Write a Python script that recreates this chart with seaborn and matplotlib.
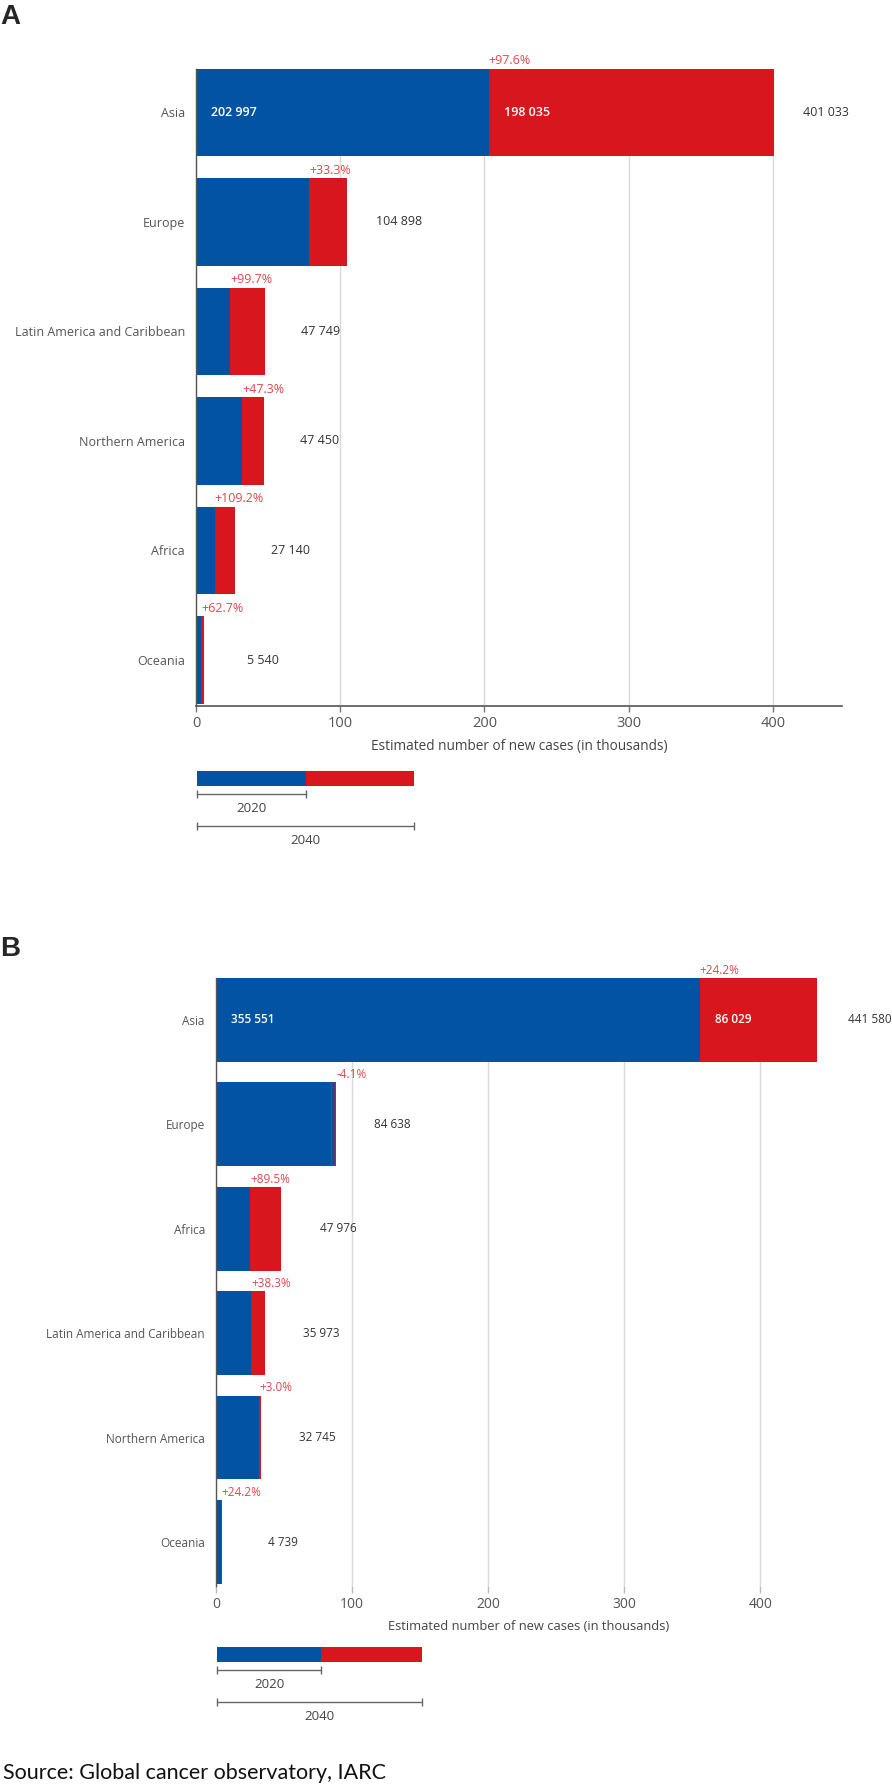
import matplotlib
matplotlib.use("Agg")
import matplotlib.pyplot as plt
import pandas as pd
import seaborn as sns

# panel A
regions_a = ["Asia", "Europe", "Latin America and Caribbean",
             "Northern America", "Africa", "Oceania"]
cases_2020_a = [202997, 78693, 23910, 32213, 12973, 3405]
cases_2040_a = [401033, 104898, 47749, 47450, 27140, 5540]
increase_a = [198035, 26205, 23839, 15237, 14167, 2135]
change_a = ["+97.6%", "+33.3%", "+99.7%", "+47.3%", "+109.2%", "+62.7%"]

# panel B
regions_b = ["Asia", "Europe", "Africa", "Latin America and Caribbean",
             "Northern America", "Oceania"]
cases_2020_b = [355551, 88256, 25317, 26011, 31791, 3816]
cases_2040_b = [441580, 84638, 47976, 35973, 32745, 4739]
increase_b = [86029, -3618, 22659, 9962, 954, 923]
change_b = ["+24.2%", "-4.1%", "+89.5%", "+38.3%", "+3.0%", "+24.2%"]

ticks = [0, 100, 200, 300, 400]
legend_years = ["2020", "2040"]

BLUE = "#0353a4"
RED = "#d7171d"
RED_TXT = "#e2474c"

sns.set_theme(style="white")
plt.rcParams["font.family"] = ["Open Sans", "DejaVu Sans"]
plt.rcParams["hatch.linewidth"] = 1.2

W, H = 892, 1784
fig = plt.figure(figsize=(W / 100, H / 100), dpi=100)


def box(left, top, right, bottom):
    return [left / W, 1 - bottom / H, (right - left) / W, (bottom - top) / H]


def fmt(v):
    return f"{v:,}".replace(",", " ")


def panel(ax, regions, v2020, v2040, inc, change, xmax, fs, tick_fs, bottom_spine):
    df = pd.DataFrame({"region": regions,
                       "k2020": [v / 1000 for v in v2020],
                       "k2040": [v / 1000 for v in v2040]})
    sns.barplot(data=df, x="k2040", y="region", color=RED, saturation=1,
                width=0.8, ax=ax, linewidth=0)
    sns.barplot(data=df, x="k2020", y="region", color=BLUE, saturation=1,
                width=0.8, ax=ax, linewidth=0)
    for i, row in df.iterrows():
        lo, hi = sorted([row.k2020, row.k2040])
        if row.k2040 < row.k2020:
            # decrease: striped part between 2040 and 2020
            ax.barh(i, hi - lo, left=lo, height=0.8, facecolor=BLUE,
                    edgecolor=RED, hatch="||||", linewidth=0)
        ax.annotate(change[i], xy=(row.k2020, i - 0.4), xytext=(0, 1),
                    textcoords="offset points", ha="left", va="bottom",
                    color=RED_TXT, fontsize=fs)
        ax.annotate(fmt(v2040[i]), xy=(hi, i), xytext=(54, 0),
                    textcoords="offset points", ha="right", va="center",
                    color="#333333", fontsize=fs, annotation_clip=False)
        if row.k2020 > 150:
            ax.annotate(fmt(v2020[i]), xy=(0, i), xytext=(11, 0),
                        textcoords="offset points", ha="left", va="center",
                        color="white", fontsize=fs, fontweight="semibold")
            ax.annotate(fmt(inc[i]), xy=(row.k2020, i),
                        xytext=(11, 0), textcoords="offset points",
                        ha="left", va="center", color="white",
                        fontsize=fs, fontweight="semibold")
    ax.set_xlim(0, xmax)
    ax.set_ylim(5.42, -0.4)
    ax.set_xticks(ticks)
    ax.set_xticklabels([str(t) for t in ticks])
    ax.set_ylabel("")
    ax.set_xlabel("Estimated number of new cases (in thousands)",
                  fontsize=fs + 0.8, color="#444444", labelpad=6)
    ax.grid(axis="x", color="#d9d9d9", linewidth=1)
    ax.set_axisbelow(True)
    ax.tick_params(axis="y", length=0, pad=8, labelsize=fs,
                   labelcolor="#555555")
    ax.tick_params(axis="x", bottom=True, length=4, width=1,
                   color="#777777", labelsize=tick_fs, labelcolor="#555555",
                   pad=3)
    for s in ["top", "right"]:
        ax.spines[s].set_visible(False)
    ax.spines["left"].set_color("#555555")
    ax.spines["left"].set_linewidth(1)
    if bottom_spine:
        ax.spines["bottom"].set_color("#555555")
        ax.spines["bottom"].set_linewidth(1.2)
    else:
        ax.spines["bottom"].set_visible(False)
        ax.tick_params(axis="x", color="#bbbbbb", length=5)


def legend(ax, split, fs):
    ax.barh(13.5, split, left=0, height=15, color=BLUE, linewidth=0)
    ax.barh(13.5, 1 - split, left=split, height=15, color=RED, linewidth=0)
    for end, yb, yt, lab in [(split, 29, 44, legend_years[0]),
                             (1, 61, 76, legend_years[1])]:
        ax.plot([0, end], [yb, yb], color="#666666", lw=1, marker="|",
                markersize=6, markeredgewidth=1)
        ax.text(end / 2, yt, lab, ha="center", va="center",
                fontsize=fs, color="#444444")
    ax.set_xlim(-0.005, 1.005)
    ax.set_ylim(85, 0)
    ax.axis("off")


ax_a = fig.add_axes(box(196, 68.6, 842, 706))
panel(ax_a, regions_a, cases_2020_a, cases_2040_a, increase_a, change_a,
      448, 9, 10.5, True)
leg_a = fig.add_axes(box(196, 765, 415, 850))
legend(leg_a, 0.502, 9.5)

ax_b = fig.add_axes(box(216, 978, 842, 1586))
panel(ax_b, regions_b, cases_2020_b, cases_2040_b, increase_b, change_b,
      460, 8.5, 10, False)
leg_b = fig.add_axes(box(216, 1641, 423, 1726))
legend(leg_b, 0.507, 9.5)

fig.text(0, 1 - 4 / H, "A", ha="left", va="top", fontsize=20,
         fontweight="bold", family=["Liberation Sans", "DejaVu Sans"])
fig.text(0, 1 - 936 / H, "B", ha="left", va="top", fontsize=20,
         fontweight="bold", family=["Liberation Sans", "DejaVu Sans"])
fig.text(3 / W, 1 - 1779 / H, "Source: Global cancer observatory, IARC",
         ha="left", va="baseline", fontsize=15.5, color="#111111",
         family=["Lato", "DejaVu Sans"])

fig.savefig("out.png", dpi=100)
